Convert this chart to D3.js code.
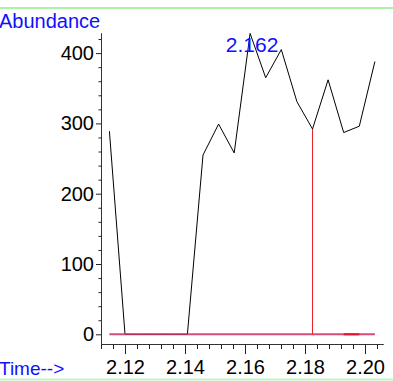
<!DOCTYPE html>
<html>
<head>
<meta charset="utf-8">
<script src="https://cdn.jsdelivr.net/npm/d3@7"></script>
<style>
  html, body { margin: 0; padding: 0; background: #fff; }
  svg { display: block; font-family: "Liberation Sans", Arial, sans-serif; }
</style>
</head>
<body>
<script>
// Ion chromatogram trace: retention time (min) and abundance per scan
const times = [2.1148, 2.1200, 2.1252, 2.1304, 2.1356, 2.1408, 2.1460, 2.1512, 2.1564,
               2.1617, 2.1669, 2.1721, 2.1773, 2.1825, 2.1877, 2.1929, 2.1981, 2.2033];
const abundance = [289, 0, 0, 0, 0, 0, 255, 299, 258, 428, 365, 405, 331, 292, 362, 287, 296, 388];

const xMajorTicks = [2.12, 2.14, 2.16, 2.18, 2.20];
const xTickLabels = ["2.12", "2.14", "2.16", "2.18", "2.20"];
const yMajorTicks = [0, 100, 200, 300, 400];
const peakLabel = "2.162";
const peakTime = 2.1617;
const cursorTime = 2.1825;
const cursorValue = 292;

const W = 393, H = 381;
const svg = d3.select("body").append("svg").attr("width", W).attr("height", H);

const x = d3.scaleLinear().domain([2.112, 2.206]).range([101, 383]);
const y = d3.scaleLinear().domain([-13.8, 428.6]).range([344, 33]);

// frame rules
svg.append("line").attr("x1", 0).attr("x2", W).attr("y1", 8).attr("y2", 8)
  .attr("stroke", "#8cf08c").attr("stroke-width", 1.5);
svg.append("line").attr("x1", 0).attr("x2", W).attr("y1", 379.5).attr("y2", 379.5)
  .attr("stroke", "#c4f4c4").attr("stroke-width", 2);

// minor ticks
const xMinor = d3.range(2.112, 2.2045, 0.004).filter(t => !xMajorTicks.some(m => Math.abs(m - t) < 1e-6));
const yMinor = d3.range(0, 428, 20).filter(v => v % 100 !== 0);

const gx = svg.append("g").attr("transform", "translate(0,344)");
gx.call(d3.axisBottom(x).tickValues(xMinor).tickSize(5).tickSizeOuter(0).tickFormat(""));
gx.append("g").call(d3.axisBottom(x).tickValues(xMajorTicks).tickSize(10).tickSizeOuter(0).tickPadding(6)
  .tickFormat((d, i) => xTickLabels[i]));

const gy = svg.append("g").attr("transform", "translate(101,0)");
gy.call(d3.axisLeft(y).tickValues(yMinor).tickSize(2.5).tickSizeOuter(0).tickFormat(""));
gy.append("g").call(d3.axisLeft(y).tickValues(yMajorTicks).tickSize(5).tickSizeOuter(0).tickPadding(2)
  .tickFormat(d3.format("d")));

svg.selectAll(".domain").attr("stroke", "#333");
svg.selectAll(".tick line").attr("stroke", "#222");
svg.selectAll(".tick text").attr("font-size", 20).attr("fill", "#000")
  .attr("font-family", "Liberation Sans, Arial, sans-serif");

// trace
const data = times.map((t, i) => ({ t, v: abundance[i] }));
svg.append("path").datum(data)
  .attr("fill", "none").attr("stroke", "#000").attr("stroke-width", 1)
  .attr("d", d3.line().x(d => x(d.t)).y(d => y(d.v)));

// baseline and cursor
svg.append("line")
  .attr("x1", x(times[0])).attr("x2", x(times[times.length - 1]))
  .attr("y1", y(0)).attr("y2", y(0))
  .attr("stroke", "#d42a62").attr("stroke-opacity", 0.85).attr("stroke-width", 2);
svg.append("line")
  .attr("x1", x(times[15])).attr("x2", x(times[16]))
  .attr("y1", y(0)).attr("y2", y(0))
  .attr("stroke", "#e8102a").attr("stroke-width", 2);
svg.append("line")
  .attr("x1", x(cursorTime)).attr("x2", x(cursorTime))
  .attr("y1", y(cursorValue)).attr("y2", y(0))
  .attr("stroke", "#e8202a").attr("stroke-width", 1);

// labels
svg.append("text").attr("x", x(peakTime) + 2).attr("y", 52.3).attr("text-anchor", "middle")
  .attr("font-size", 21).attr("fill", "#1010ff").text(peakLabel);
svg.append("text").attr("x", -1).attr("y", 27.7)
  .attr("font-size", 20).attr("fill", "#1010ff").text("Abundance");
svg.append("text").attr("x", -1).attr("y", 375)
  .attr("font-size", 19).attr("fill", "#1010ff").text("Time-->");
</script>
</body>
</html>
